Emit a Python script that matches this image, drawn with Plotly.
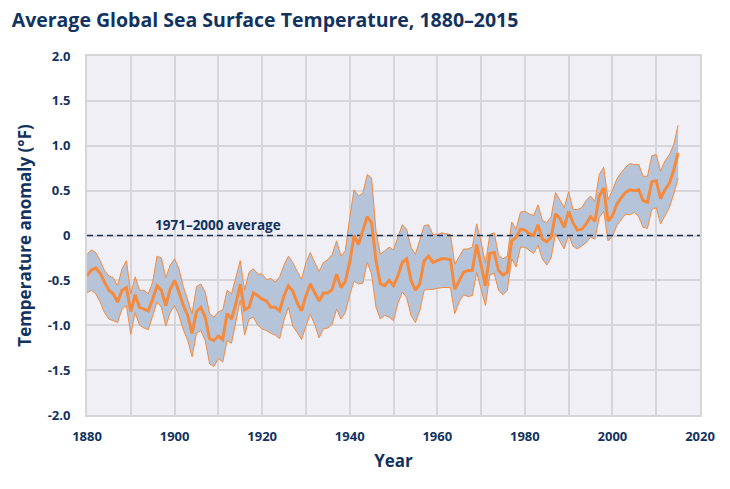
import plotly.graph_objects as go

years = list(range(1880, 2016))

center = [
    -0.45, -0.385, -0.36, -0.42, -0.52, -0.61, -0.65, -0.74, -0.61, -0.58,
    -0.85, -0.66, -0.80, -0.82, -0.84, -0.71, -0.56, -0.61, -0.78, -0.60,
    -0.50, -0.63, -0.78, -0.89, -1.09, -0.85, -0.80, -0.91, -1.15, -1.17,
    -1.12, -1.16, -0.87, -0.93, -0.76, -0.54, -0.83, -0.80, -0.64, -0.67,
    -0.71, -0.73, -0.80, -0.80, -0.84, -0.67, -0.56, -0.62, -0.75, -0.84,
    -0.67, -0.54, -0.64, -0.73, -0.64, -0.64, -0.60, -0.43, -0.58, -0.51,
    -0.30, 0.00, -0.10, 0.05, 0.21, 0.14, -0.28, -0.54, -0.56, -0.50,
    -0.56, -0.45, -0.30, -0.26, -0.50, -0.61, -0.54, -0.28, -0.23, -0.30,
    -0.28, -0.26, -0.26, -0.27, -0.60, -0.50, -0.41, -0.39, -0.39, -0.10,
    -0.33, -0.56, -0.20, -0.19, -0.39, -0.44, -0.41, -0.06, -0.02, 0.07,
    0.06, 0.02, 0.00, 0.12, -0.04, -0.07, -0.02, 0.24, 0.19, 0.09,
    0.27, 0.14, 0.06, 0.07, 0.13, 0.21, 0.16, 0.44, 0.53, 0.16,
    0.22, 0.35, 0.42, 0.48, 0.51, 0.50, 0.51, 0.39, 0.37, 0.60,
    0.61, 0.41, 0.51, 0.58, 0.73, 0.92,
]

upper = [
    -0.21, -0.16, -0.19, -0.28, -0.39, -0.45, -0.47, -0.56, -0.37, -0.28,
    -0.65, -0.46, -0.61, -0.61, -0.65, -0.52, -0.23, -0.25, -0.47, -0.33,
    -0.26, -0.37, -0.57, -0.72, -0.87, -0.57, -0.54, -0.63, -0.87, -0.91,
    -0.85, -0.83, -0.61, -0.65, -0.46, -0.28, -0.61, -0.41, -0.37, -0.43,
    -0.43, -0.49, -0.48, -0.52, -0.46, -0.33, -0.23, -0.30, -0.40, -0.49,
    -0.30, -0.19, -0.30, -0.40, -0.30, -0.27, -0.21, -0.06, -0.23, -0.17,
    0.20, 0.51, 0.44, 0.47, 0.68, 0.64, 0.05, -0.21, -0.17, -0.13,
    -0.16, -0.02, 0.12, 0.07, -0.13, -0.21, -0.04, 0.11, 0.12, 0.01,
    0.01, 0.03, 0.02, 0.01, -0.32, -0.23, -0.15, -0.15, -0.13, 0.13,
    -0.07, -0.31, 0.01, 0.03, -0.22, -0.26, -0.23, 0.15, 0.07, 0.26,
    0.27, 0.24, 0.22, 0.34, 0.17, 0.14, 0.21, 0.48, 0.40, 0.31,
    0.49, 0.29, 0.29, 0.31, 0.39, 0.44, 0.38, 0.68, 0.76, 0.40,
    0.50, 0.63, 0.70, 0.76, 0.80, 0.79, 0.79, 0.66, 0.66, 0.89,
    0.90, 0.72, 0.83, 0.90, 1.01, 1.23,
]

lower = [
    -0.64, -0.61, -0.65, -0.74, -0.86, -0.93, -0.95, -0.97, -0.82, -0.78,
    -1.10, -0.86, -1.00, -1.03, -1.05, -0.89, -0.74, -0.80, -1.01, -0.86,
    -0.78, -0.89, -1.05, -1.17, -1.35, -1.09, -1.06, -1.17, -1.43, -1.46,
    -1.37, -1.41, -1.17, -1.20, -0.96, -0.72, -1.11, -0.93, -0.91, -1.00,
    -1.04, -1.06, -1.09, -1.11, -1.15, -0.94, -0.80, -1.01, -1.08, -1.16,
    -1.01, -0.88, -0.99, -1.14, -1.04, -1.03, -0.99, -0.82, -0.93, -0.86,
    -0.66, -0.51, -0.54, -0.53, -0.30, -0.43, -0.80, -0.93, -0.89, -0.91,
    -0.95, -0.76, -0.63, -0.69, -0.89, -0.97, -0.84, -0.61, -0.60, -0.60,
    -0.59, -0.58, -0.58, -0.58, -0.87, -0.74, -0.66, -0.68, -0.67, -0.41,
    -0.60, -0.78, -0.44, -0.42, -0.61, -0.66, -0.61, -0.26, -0.35, -0.13,
    -0.13, -0.17, -0.20, -0.11, -0.26, -0.33, -0.25, 0.02, -0.06, -0.15,
    0.01, -0.12, -0.15, -0.11, -0.08, -0.02, -0.04, 0.20, 0.27, -0.06,
    -0.01, 0.11, 0.18, 0.24, 0.23, 0.26, 0.21, 0.09, 0.08, 0.29,
    0.31, 0.13, 0.22, 0.31, 0.46, 0.64,
]

x_ticks = [1880, 1900, 1920, 1940, 1960, 1980, 2000, 2020]
y_tickvals = [2.0, 1.5, 1.0, 0.5, 0.0, -0.5, -1.0, -1.5, -2.0]
y_ticktext = ["2.0", "1.5", "1.0", "0.5", "0", "-0.5", "-1.0", "-1.5", "-2.0"]
x_range = [1880, 2020]
y_range = [-2.0, 2.0]
baseline_value = 0.0
baseline_label = "1971\u20132000 average"

NAVY = "#12335f"
ORANGE = "#f58a3d"
BAND = "#b5c4d8"
BG = "#efeff5"
GRID = "#d5d5da"
FONT = "Open Sans"

fig = go.Figure()

fig.add_trace(go.Scatter(
    x=years, y=lower, mode="lines",
    line=dict(color=ORANGE, width=1), hoverinfo="skip", showlegend=False,
))
fig.add_trace(go.Scatter(
    x=years, y=upper, mode="lines", fill="tonexty", fillcolor=BAND,
    line=dict(color=ORANGE, width=1), hoverinfo="skip", showlegend=False,
))
fig.add_trace(go.Scatter(
    x=x_range, y=[baseline_value, baseline_value], mode="lines",
    line=dict(color="#1d3157", width=1.6, dash="6px,4px"),
    hoverinfo="skip", showlegend=False,
))
fig.add_trace(go.Scatter(
    x=years, y=center, mode="lines",
    line=dict(color=ORANGE, width=3), showlegend=False,
))

fig.add_annotation(
    x=1910, y=baseline_value, yshift=11, text=baseline_label, showarrow=False,
    font=dict(family=FONT, size=13.5, color=NAVY, weight="bold"),
)

fig.update_layout(
    width=730, height=489,
    margin=dict(l=87, r=30, t=56, b=74),
    paper_bgcolor="white", plot_bgcolor=BG,
    title=dict(
        text="Average Global Sea Surface Temperature, 1880\u20132015",
        x=0.016, xanchor="left", y=0.958, yanchor="middle",
        font=dict(family=FONT, size=19.5, color=NAVY, weight="bold"),
    ),
    font=dict(family=FONT, color=NAVY),
)

fig.update_xaxes(
    range=x_range, tickvals=x_ticks, showgrid=True, gridcolor=GRID, gridwidth=2,
    zeroline=False,
    showline=True, linecolor=GRID, linewidth=2, mirror=True,
    tickfont=dict(family=FONT, size=13, color=NAVY, weight="bold"),
    ticklabelstandoff=8,
    title=dict(text="Year", standoff=12,
               font=dict(family=FONT, size=17, color=NAVY, weight="bold")),
    minor=dict(dtick=10, showgrid=True, gridcolor=GRID, gridwidth=2),
)
fig.update_yaxes(
    range=y_range, tickvals=y_tickvals, ticktext=y_ticktext,
    showgrid=True, gridcolor=GRID, gridwidth=2, zeroline=False,
    showline=True, linecolor=GRID, linewidth=2, mirror=True,
    tickfont=dict(family=FONT, size=13, color=NAVY, weight="bold"),
    ticklabelstandoff=12,
    title=dict(text="Temperature anomaly (\u00b0F)", standoff=12,
               font=dict(family=FONT, size=17, color=NAVY, weight="bold")),
)

fig.write_html(
    "out.html",
    config={"displayModeBar": False},
    post_script="document.body.style.margin='0px';",
)
